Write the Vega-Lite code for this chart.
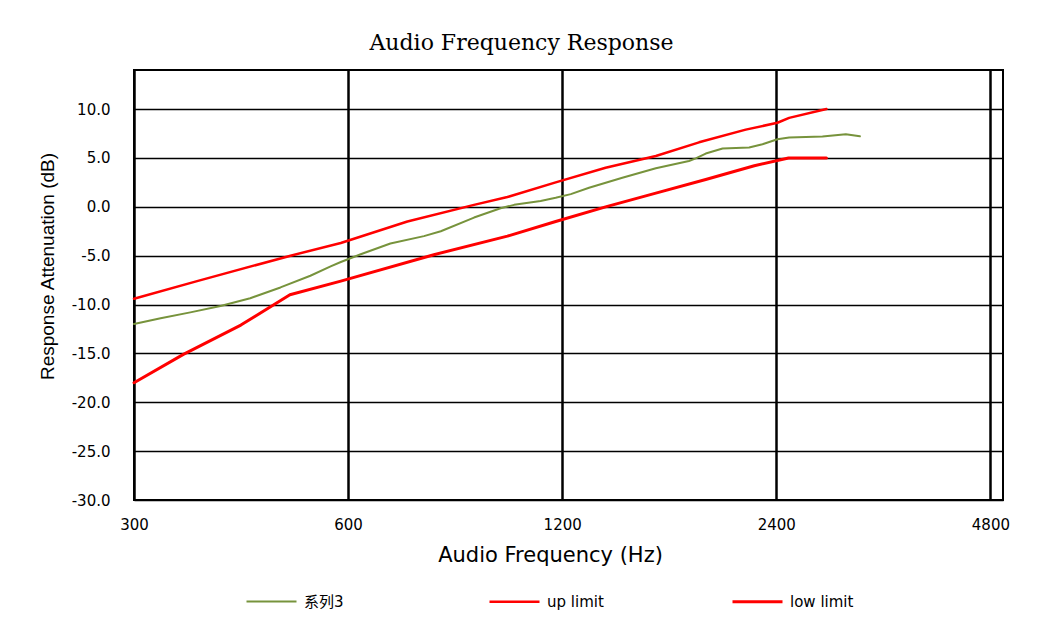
{
  "$schema": "https://vega.github.io/schema/vega-lite/v6.json",
  "width": 869,
  "height": 430,
  "autosize": {"type": "none"},
  "padding": {"left": 134, "top": 70, "right": 37, "bottom": 123},
  "background": "white",
  "title": {"text": "Audio Frequency Response", "font": "DejaVu Serif", "fontSize": 22, "fontWeight": "normal", "color": "black", "offset": 15, "dx": -47},
  "data": {"values": [
    {"series": "系列3", "freq": 300, "db": -12.0},
    {"series": "系列3", "freq": 327, "db": -11.4},
    {"series": "系列3", "freq": 360, "db": -10.8},
    {"series": "系列3", "freq": 397, "db": -10.15},
    {"series": "系列3", "freq": 437, "db": -9.35},
    {"series": "系列3", "freq": 482, "db": -8.25},
    {"series": "系列3", "freq": 531, "db": -7.05},
    {"series": "系列3", "freq": 567, "db": -6.1},
    {"series": "系列3", "freq": 586, "db": -5.65},
    {"series": "系列3", "freq": 625, "db": -4.85},
    {"series": "系列3", "freq": 688, "db": -3.75},
    {"series": "系列3", "freq": 767, "db": -3.0},
    {"series": "系列3", "freq": 810, "db": -2.5},
    {"series": "系列3", "freq": 902, "db": -1.1},
    {"series": "系列3", "freq": 983, "db": -0.15},
    {"series": "系列3", "freq": 1027, "db": 0.2},
    {"series": "系列3", "freq": 1119, "db": 0.6},
    {"series": "系列3", "freq": 1175, "db": 0.92},
    {"series": "系列3", "freq": 1234, "db": 1.3},
    {"series": "系列3", "freq": 1309, "db": 1.95},
    {"series": "系列3", "freq": 1458, "db": 2.98},
    {"series": "系列3", "freq": 1625, "db": 3.94},
    {"series": "系列3", "freq": 1809, "db": 4.69},
    {"series": "系列3", "freq": 1849, "db": 4.96},
    {"series": "系列3", "freq": 1910, "db": 5.45},
    {"series": "系列3", "freq": 2017, "db": 5.96},
    {"series": "系列3", "freq": 2198, "db": 6.06},
    {"series": "系列3", "freq": 2295, "db": 6.4},
    {"series": "系列3", "freq": 2409, "db": 6.92},
    {"series": "系列3", "freq": 2502, "db": 7.09},
    {"series": "系列3", "freq": 2787, "db": 7.19},
    {"series": "系列3", "freq": 3006, "db": 7.43},
    {"series": "系列3", "freq": 3146, "db": 7.22},
    {"series": "up limit", "freq": 300, "db": -9.4},
    {"series": "up limit", "freq": 368, "db": -7.6},
    {"series": "up limit", "freq": 498, "db": -5.0},
    {"series": "up limit", "freq": 586, "db": -3.7},
    {"series": "up limit", "freq": 727, "db": -1.5},
    {"series": "up limit", "freq": 902, "db": 0.2},
    {"series": "up limit", "freq": 1005, "db": 1.0},
    {"series": "up limit", "freq": 1175, "db": 2.5},
    {"series": "up limit", "freq": 1381, "db": 4.0},
    {"series": "up limit", "freq": 1625, "db": 5.2},
    {"series": "up limit", "freq": 1869, "db": 6.6},
    {"series": "up limit", "freq": 2174, "db": 7.9},
    {"series": "up limit", "freq": 2409, "db": 8.6},
    {"series": "up limit", "freq": 2502, "db": 9.1},
    {"series": "up limit", "freq": 2823, "db": 10.0},
    {"series": "low limit", "freq": 300, "db": -18.0},
    {"series": "low limit", "freq": 352, "db": -15.1},
    {"series": "low limit", "freq": 424, "db": -12.1},
    {"series": "low limit", "freq": 497, "db": -9.0},
    {"series": "low limit", "freq": 586, "db": -7.6},
    {"series": "low limit", "freq": 792, "db": -4.9},
    {"series": "low limit", "freq": 1005, "db": -3.0},
    {"series": "low limit", "freq": 1175, "db": -1.5},
    {"series": "low limit", "freq": 1381, "db": 0.0},
    {"series": "low limit", "freq": 1625, "db": 1.4},
    {"series": "low limit", "freq": 1910, "db": 2.8},
    {"series": "low limit", "freq": 2235, "db": 4.2},
    {"series": "low limit", "freq": 2497, "db": 5.0},
    {"series": "low limit", "freq": 2823, "db": 5.0}
  ]},
  "mark": {"type": "line", "strokeCap": "round", "strokeJoin": "round"},
  "encoding": {
    "x": {
      "field": "freq", "type": "quantitative",
      "scale": {"type": "log", "base": 2, "domain": [300, 5000], "nice": false},
      "axis": {
        "values": [300, 600, 1200, 2400, 4800], "format": "d", "labelFlush": false, "labelOverlap": false,
        "title": "Audio Frequency (Hz)", "titleFont": "DejaVu Sans", "titleFontSize": 21, "titleFontWeight": "normal", "titleColor": "black",
        "titleX": 416, "titleY": 55, "titleBaseline": "middle", "titleAlign": "center",
        "labelFont": "DejaVu Sans", "labelFontSize": 15, "labelColor": "black", "labelPadding": 17,
        "ticks": false, "tickSize": 0, "domain": false,
        "grid": true, "gridColor": "black", "gridWidth": 2.5, "gridOpacity": 1
      }
    },
    "y": {
      "field": "db", "type": "quantitative",
      "scale": {"domain": [-30, 14], "nice": false, "zero": false},
      "axis": {
        "values": [-30, -25, -20, -15, -10, -5, 0, 5, 10], "format": ".1f", "labelFlush": false, "labelOverlap": false,
        "title": "Response  Attenuation (dB)", "titleFont": "Liberation Sans", "titleFontSize": 19, "titleFontWeight": "normal", "titleColor": "black",
        "titleX": -87, "titleY": 196, "titleAngle": -90, "titleBaseline": "middle", "titleAlign": "center",
        "labelFont": "DejaVu Sans", "labelFontSize": 15, "labelColor": "black", "labelPadding": 24,
        "ticks": false, "tickSize": 0, "domain": false,
        "grid": true, "gridColor": "black", "gridWidth": 1.5, "gridOpacity": 1
      }
    },
    "color": {
      "field": "series", "type": "nominal",
      "scale": {"domain": ["系列3", "up limit", "low limit"], "range": ["#77933C", "#FF0000", "#FF0000"]},
      "legend": {
        "orient": "none", "legendX": 111, "legendY": 505, "direction": "horizontal", "columns": 3,
        "title": null, "symbolType": "stroke", "symbolSize": 2500, "symbolStrokeWidth": 2,
        "labelFont": "DejaVu Sans, Noto Sans CJK SC", "labelFontSize": 15, "labelColor": "black", "labelOffset": 6,
        "columnPadding": 115, "gridAlign": "all", "padding": 0, "labelLimit": 300
      }
    },
    "strokeWidth": {
      "field": "series", "type": "nominal",
      "scale": {"domain": ["系列3", "up limit", "low limit"], "range": [2, 3, 3]},
      "legend": null
    }
  },
  "config": {
    "view": {"stroke": "black", "strokeWidth": 2},
    "locale": {"number": {"decimal": ".", "thousands": ",", "grouping": [3], "currency": ["$", ""], "minus": "-"}}
  }
}
